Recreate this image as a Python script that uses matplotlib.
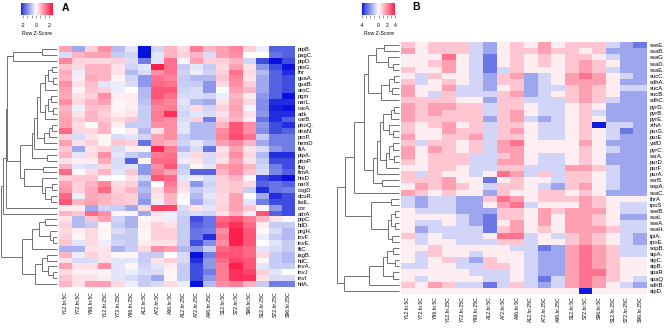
import numpy as np
import matplotlib
matplotlib.use("Agg")
import matplotlib.pyplot as plt
from matplotlib.colors import LinearSegmentedColormap

plt.rcParams['font.family'] = ['Liberation Sans', 'DejaVu Sans']

conditions = ["Y12.hr.5C", "Y72.hr.5C", "Y96.hr.5C", "Y12.hr.25C", "Y72.hr.25C", "Y96.hr.25C",
              "A12.hr.5C", "A72.hr.5C", "A96.hr.5C", "A12.hr.25C", "A72.hr.25C", "A96.hr.25C",
              "S12.hr.5C", "S72.hr.5C", "S96.hr.5C", "S12.hr.25C", "S72.hr.25C", "S96.hr.25C"]

genes_a = ["pipB.", "pagC.", "pipD.", "ptsG.", "fnr", "guaA.", "guaB.", "aroC.", "pgm", "narL.",
           "carA.", "adk", "carB.", "phoQ.", "dnaN.", "proP.", "hemD", "fliA.", "pipA.", "phoP.",
           "fbp", "fimA.", "hisD", "narX.", "csgD", "dcuR.", "fadL.", "cor", "adrA", "pipC.",
           "hilD.", "prgH.", "invF.", "invE.", "fliC.", "iagB.", "hilC.", "invA.", "invJ", "invI",
           "hilA."]

genes_b = ["sseE.", "ssaB.", "ssaG", "ssaD.", "ssaE.", "sucC.", "sdhA.", "sucA.", "sucB.", "sdhC.",
           "pyrD.", "pyrB.", "pyrE.", "xthA", "purG.", "purE", "yafD", "pyrC.", "ssrA.", "purD.",
           "purF.", "purA.", "ssrB.", "sopA.", "ssaC.", "thrA", "rpoS", "sseB.", "ssaI.", "sseA.",
           "ssaH.", "tpiA.", "rpoE.", "sopB.", "sipA.", "sipC.", "sipB.", "spaR", "spaQ", "sdhB.",
           "sipD."]

# row z-scores, panel A (rows top to bottom, columns as in conditions)
heat_a = [
    [1.0, -1.0, 0.5, 1.2, -0.8, -0.3, -3.0, -0.5, 0.8, 0.4, 1.4, 0.8, 1.0, 1.3, 0.5, -0.2, -1.8, -1.8],
    [-0.4, 0.8, 1.0, 1.0, -0.6, -0.5, -3.0, -0.3, 0.8, 0.5, 0.8, -0.4, 1.0, 1.2, 0.0, 0.0, -1.6, -1.8],
    [1.3, 0.5, 0.4, 0.4, 0.5, -0.4, -1.5, -0.3, 1.5, 0.1, 1.0, 0.5, 0.5, 0.8, -0.5, -2.0, -2.4, -2.0],
    [0.6, 0.4, 0.8, 0.8, 0.3, -0.5, -0.3, 2.5, 1.5, -0.6, -0.3, -0.6, 0.4, 1.0, 0.3, -1.2, -2.0, -2.4],
    [0.9, -0.2, 0.8, 0.8, 0.3, -0.8, -0.4, 1.2, 1.5, -0.5, -0.2, -0.5, 0.5, 1.5, 0.4, -0.8, -1.8, -2.2],
    [0.8, 0.2, 0.9, 0.8, 0.1, -0.5, -1.2, 1.5, 1.3, -0.6, -0.8, -0.8, 0.6, 1.3, 0.3, -1.0, -1.8, -2.0],
    [1.2, 0.3, 0.7, -0.3, -0.2, -0.4, -1.2, 1.6, 1.5, -0.6, -0.6, -1.2, 0.4, 1.2, 0.5, -1.0, -1.8, -2.0],
    [1.0, 0.1, 0.6, 0.5, -0.2, 0.0, -0.8, 1.8, 1.8, -0.5, -0.4, -1.2, 0.0, 1.0, 0.8, -1.0, -1.8, -2.0],
    [0.9, 0.3, 0.5, 1.2, 0.2, 0.2, -0.8, 1.8, 1.5, -0.4, -0.4, -0.5, -0.2, 0.8, 0.2, -1.2, -1.8, -2.8],
    [1.2, 0.4, 0.8, 1.0, 0.1, 0.2, -0.7, 1.5, 1.3, -0.3, -0.8, -1.0, 0.3, 0.9, 0.4, -1.3, -2.2, -2.2],
    [0.8, -0.2, 0.7, 0.6, 0.1, 0.2, -0.6, 1.3, 1.4, -0.4, 0.4, -0.5, 0.5, 1.0, -0.1, -1.3, -2.3, -2.4],
    [0.9, 0.3, 0.8, 0.5, 0.2, 0.3, -0.6, 1.4, 2.2, -0.5, -0.3, -0.4, 0.3, 0.9, 0.3, -1.2, -2.2, -2.2],
    [1.0, 0.5, 0.8, 0.6, 0.4, 0.6, -0.6, 1.4, 1.2, -0.4, 0.5, -1.5, 0.5, 0.8, 0.2, -1.6, -2.2, -1.8],
    [1.0, 0.4, 0.0, 0.8, 0.2, -0.6, -0.6, 1.2, 1.2, -0.3, -0.8, -0.8, 0.8, 1.8, 1.2, -1.2, -2.0, -2.2],
    [1.6, 0.4, 0.4, 0.8, 0.0, 0.2, -0.8, 0.3, 1.2, -0.3, -0.8, -0.8, 1.2, 1.8, 1.2, -1.3, -2.0, -1.8],
    [0.5, -0.4, 0.3, 0.1, -0.4, -0.3, -0.5, 1.0, 1.2, -0.6, -0.8, -0.8, 1.3, 1.9, 1.5, -0.6, -1.5, -1.5],
    [1.0, 0.3, 0.5, 0.1, 0.6, 0.5, -1.6, 1.0, 0.8, -0.5, -0.3, -0.6, 1.0, 1.3, 0.8, -1.0, -1.5, -1.5],
    [0.6, -1.0, 0.3, 0.5, -0.4, 0.2, 0.1, 2.3, 1.4, -0.8, -0.4, -1.6, 0.3, 1.0, 0.3, -0.4, -1.2, -1.5],
    [0.8, -0.3, 0.4, 1.2, -0.3, -0.6, -0.8, 1.4, 1.5, -0.3, 0.4, -0.4, 0.4, 1.2, 0.4, -0.8, -2.2, -2.2],
    [0.3, 0.2, 0.2, 0.9, -0.4, -1.8, 0.1, 1.6, 1.6, -0.2, 0.3, -0.4, 0.3, 1.0, 0.3, -0.6, -2.0, -2.0],
    [0.8, -0.3, -0.4, 0.4, -0.4, -0.3, -1.2, 1.2, 1.8, -0.6, 0.1, -0.3, 1.0, 1.2, 0.8, -0.5, -1.5, -2.0],
    [1.6, 0.1, 0.4, 0.8, -0.3, 0.6, -1.2, 1.4, 1.0, -0.5, -1.8, -1.8, 0.8, 1.2, 0.6, -0.4, -1.4, -1.8],
    [0.5, 0.6, 0.6, 0.0, 0.0, 0.3, -0.5, 1.8, 1.6, -0.3, -0.2, -0.4, 0.5, 0.8, 0.1, -2.0, -2.2, -2.6],
    [1.0, 0.5, 0.8, 1.3, 0.4, 0.5, -1.0, 0.0, 1.4, 0.4, -1.2, -0.5, 0.5, 0.6, 0.4, -1.8, -1.6, -1.8],
    [1.1, 0.5, 0.9, 1.6, 0.5, 0.8, -0.8, 0.4, 1.2, 0.3, -0.6, -0.4, 0.5, 0.6, -0.6, -2.2, -1.6, -1.5],
    [1.6, -0.2, 0.9, 0.8, 0.6, 0.5, -1.0, 0.3, 0.8, 0.1, -0.8, -0.3, 0.4, 1.0, 0.0, -1.0, -2.2, -2.0],
    [1.8, 0.8, 1.0, 0.8, 0.6, 0.5, -1.2, -0.2, 0.8, 0.0, -1.0, -0.4, 0.4, 1.0, -0.3, -1.5, -2.0, -2.0],
    [0.2, 0.2, -1.0, -0.5, -0.6, -1.0, 0.4, 2.0, 2.0, -0.4, 0.3, -0.3, 0.5, 1.0, 0.6, 0.1, -1.2, -2.0],
    [0.8, 0.6, 1.6, 1.2, 0.1, 0.1, -1.0, 0.3, -0.2, -0.5, -0.4, -0.5, 0.3, 0.8, -0.2, 1.8, -1.8, -2.0],
    [0.3, -0.8, 0.6, 1.0, -0.5, -0.9, 0.1, 0.2, -0.2, -0.6, -2.0, -1.6, 1.6, 1.8, 1.4, 0.8, 0.3, 0.1],
    [0.5, -0.8, -0.6, 0.1, -0.6, -0.9, 0.2, 0.5, 0.3, -0.6, -1.8, -1.6, 1.8, 2.2, 1.6, 0.2, -0.6, -0.6],
    [0.4, 0.2, 0.4, 0.1, -0.4, -0.6, 0.1, 0.5, 0.5, -0.6, -1.6, -1.5, 1.2, 2.4, 1.8, 0.1, -0.4, -0.8],
    [0.5, 0.1, 0.4, 0.1, -0.6, -0.6, 0.1, 0.5, 0.5, -0.6, -1.6, -2.2, 1.4, 2.4, 1.8, -0.2, -0.6, -0.8],
    [0.6, -0.3, 0.4, -0.2, -0.5, -0.6, 0.2, 0.3, 0.3, -0.6, -2.0, -1.3, 1.2, 2.4, 1.8, 0.0, -0.3, -0.6],
    [-0.9, -0.9, 0.3, 0.3, -0.9, -0.6, 0.4, 1.2, 1.0, -0.8, -1.2, -0.6, 1.6, 1.8, 1.6, -0.3, -0.4, -0.6],
    [0.8, -0.2, 0.5, 0.3, 0.1, 0.1, -0.6, -0.6, 0.0, -0.4, -2.4, -1.5, 1.8, 1.8, 1.6, 0.4, -0.6, -0.8],
    [0.3, -0.4, -0.4, 0.3, -0.3, -0.3, -0.6, 0.3, 0.5, -0.4, -2.2, -1.2, 1.6, 2.0, 1.8, 0.1, -0.6, -0.8],
    [1.0, 0.3, 0.3, 1.2, -0.3, 0.1, -0.5, -0.3, 0.2, -0.6, -2.0, -1.2, 1.4, 2.4, 1.8, -0.3, -0.6, -0.6],
    [0.4, 0.2, 0.2, 0.1, -0.3, -0.2, -0.4, -0.4, 0.1, -0.6, -2.0, -1.5, 1.4, 2.2, 2.0, 0.5, -0.3, 0.0],
    [0.6, 0.3, 0.3, 0.2, -0.3, -0.4, -0.6, -1.0, 0.1, -0.6, -2.0, -1.2, 1.4, 2.2, 2.2, 0.3, -0.4, -0.4],
    [0.8, 0.3, 1.0, 1.0, 0.4, -0.2, -0.6, -0.4, 0.4, -0.2, -2.6, -0.8, 1.2, 1.4, 0.8, -0.6, -1.5, -1.5],
]

# row z-scores, panel B
heat_b = [
    [1.0, 0.3, 1.0, 1.0, 1.0, -0.8, -1.7, 0.3, 1.0, 0.3, 1.7, 0.3, 1.0, 1.0, 1.0, -0.8, -1.7, -2.6],
    [1.7, 0.3, 1.0, 1.0, 1.0, -0.8, -1.7, 0.3, 1.0, 1.0, 1.7, 1.0, 1.0, 0.3, 1.0, -1.7, -1.7, -1.7],
    [0.3, 0.3, 0.3, 2.5, 0.3, -0.8, -2.6, 0.3, 1.0, 0.3, 1.0, 0.3, 1.0, 1.0, 0.3, -0.8, -1.7, -1.7],
    [0.3, 0.3, 1.0, 1.7, 0.3, -0.8, -2.6, 0.3, 1.0, 0.3, 1.0, 0.3, 1.0, 1.7, 1.0, 0.3, -1.7, -1.7],
    [1.0, 0.3, 0.3, 1.7, 0.3, -0.8, -2.6, -0.8, 1.0, 0.3, 0.3, 0.3, 1.0, 1.7, 1.0, -0.8, -1.7, -1.7],
    [0.3, -0.8, 1.0, 0.3, 0.3, -0.8, -1.7, 1.0, 1.7, -1.7, -0.8, 0.3, 1.7, 2.5, 1.7, 0.3, -0.8, -1.7],
    [1.0, -0.8, 0.3, 1.0, 0.3, -0.8, -1.7, 1.0, 1.0, -1.7, -0.8, 0.3, 1.7, 1.7, 1.7, 0.3, -1.7, -1.7],
    [1.7, 0.3, 0.3, 1.7, -0.8, -0.8, -1.7, 0.3, 1.0, -1.7, -0.8, -0.8, 1.0, 1.7, 1.0, 0.3, -0.8, -0.8],
    [1.7, 0.3, -0.8, 1.0, -0.8, -0.8, -0.8, 1.0, 1.7, -1.7, -0.8, 0.3, 1.0, 1.7, 1.0, 0.3, -1.7, -1.7],
    [1.0, 1.0, 1.0, 1.0, 0.3, 0.3, -1.7, 1.0, 1.0, -0.8, -0.8, -0.8, 1.0, 1.7, 1.0, -0.8, -1.7, -1.7],
    [1.7, 1.0, 1.7, 1.7, 1.0, 1.0, -0.8, 1.0, 1.0, 0.3, -0.8, -0.8, 0.3, 1.0, 0.3, -1.7, -1.7, -1.7],
    [1.7, 1.0, 1.7, 1.0, 1.0, 1.0, -0.8, 1.0, 1.7, 0.3, -0.8, -0.8, 0.3, 1.0, -0.8, -1.7, -1.7, -1.7],
    [1.7, 1.0, 1.0, 1.0, 1.0, 1.0, -1.7, 1.0, 1.7, -0.8, -1.7, -0.8, 0.3, 1.0, 0.3, -1.7, -1.7, -1.7],
    [1.0, 0.3, 1.0, 1.7, 0.3, 1.0, -0.8, 1.0, 1.0, 0.3, -0.8, -0.8, 0.3, 1.0, -3.9, -0.8, -0.8, -1.7],
    [1.0, 0.3, 0.3, 1.7, 1.0, 1.0, -0.8, 1.0, 1.7, 0.3, -0.8, -0.8, 0.3, 1.0, 0.3, -0.8, -2.6, -1.7],
    [1.7, 0.3, 0.3, 1.0, 1.0, 1.7, -0.8, 1.0, 1.0, 0.3, -0.8, -0.8, 0.3, 1.0, 0.3, -0.8, -1.7, -1.7],
    [1.0, -0.8, 1.0, 1.0, 0.3, 1.0, -0.8, 1.7, 2.5, 0.3, 0.3, 0.3, 0.3, 1.7, 0.3, -1.7, -1.7, -1.7],
    [1.7, 0.3, 1.7, 1.0, 0.3, 1.0, -0.8, 1.7, 1.7, 0.3, 0.3, 0.3, 0.3, 1.0, 0.3, -0.8, -1.7, -1.7],
    [1.7, 0.3, 1.0, 1.0, 1.0, -0.8, -0.8, 1.0, 1.7, 0.3, -0.8, -0.8, 0.3, 1.0, 0.3, -1.7, -1.7, -1.7],
    [1.0, 0.3, 1.0, 1.0, 1.0, -0.8, -0.8, 1.7, 1.7, 0.3, -0.8, -0.8, 0.3, 1.0, 0.3, -1.7, -1.7, -1.7],
    [0.3, 0.3, 1.0, 1.0, 0.3, -0.8, -0.8, 1.0, 1.0, -0.8, -0.8, -0.8, 1.7, 1.7, 1.0, -0.8, -1.7, -1.7],
    [1.0, -0.8, 1.0, 0.3, 0.3, -0.8, 0.3, 2.5, 1.7, -0.8, 1.0, -0.8, 1.0, 1.0, 0.3, -0.8, -1.7, -1.7],
    [1.0, 1.0, 1.0, 1.7, 0.3, 0.3, -2.6, 0.3, 1.0, 0.3, 0.3, -0.8, 1.0, 1.0, 0.3, -0.8, -1.7, -1.7],
    [0.3, 1.7, 1.0, 1.7, 1.0, 0.3, -0.8, 1.0, 1.0, 0.3, -0.8, -1.7, 1.0, 1.7, 0.3, -0.8, -1.7, -1.7],
    [1.7, 1.0, 0.3, 1.0, 0.3, 0.3, -1.7, 1.0, 0.3, 0.3, 1.0, 1.0, 0.3, 1.0, 0.3, -1.7, -1.7, -1.7],
    [-0.8, -1.7, -0.8, -0.8, -1.7, -1.7, 1.0, 2.5, 1.7, 0.3, 1.0, 1.0, 1.0, 1.7, 1.0, 0.3, 0.3, 0.3],
    [-0.8, -1.7, -0.8, -0.8, -1.7, -1.7, 0.3, 1.7, 2.5, -0.8, 0.3, 0.3, 0.3, 1.7, 1.0, 0.3, -0.8, -0.8],
    [0.3, -0.8, -0.8, -0.8, -1.7, -1.7, -1.7, 1.0, 1.0, 0.3, 1.7, 1.0, 1.7, 1.7, 1.7, 0.3, -0.8, -0.8],
    [0.3, 0.3, 0.3, 0.3, -0.8, -1.7, -2.6, 1.0, 1.0, 0.3, 1.7, 0.3, 1.7, 1.7, 1.0, 0.3, -1.7, -1.7],
    [0.3, -0.8, -0.8, 0.3, -0.8, -1.7, -2.6, 0.3, 1.7, 0.3, 1.7, 0.3, 1.7, 1.7, 1.0, 0.3, -0.8, -0.8],
    [0.3, -1.7, -0.8, -0.8, -0.8, -0.8, -2.6, 1.0, 1.7, 0.3, 1.0, 0.3, 1.7, 1.7, 1.7, 1.0, -0.8, -0.8],
    [1.0, -0.8, 0.3, -0.8, -0.8, -0.8, 0.3, 2.5, 2.5, -0.8, 0.3, -0.8, 1.0, 1.7, 1.0, 0.3, -0.8, -1.7],
    [0.3, -0.8, 0.3, 0.3, -0.8, -0.8, -0.8, 1.0, 1.0, -0.8, 0.3, 0.3, 1.0, 1.7, 1.0, 0.3, -0.8, -1.7],
    [0.3, 0.3, 1.0, 0.3, 0.3, 0.3, 0.3, 0.3, -0.8, -0.8, -2.6, -1.7, 1.7, 2.5, 1.7, 1.0, -0.8, -0.8],
    [0.3, -0.8, 1.0, 0.3, 0.3, -0.8, 0.3, 0.3, 0.3, -0.8, -1.7, -1.7, 1.7, 2.5, 1.7, 1.0, -0.8, -0.8],
    [0.3, -0.8, 0.3, 1.0, -0.8, -1.7, 1.0, 0.3, 0.3, -0.8, -1.7, -1.7, 1.7, 2.5, 1.7, 1.0, 0.3, 0.3],
    [-0.8, -0.8, 0.3, 0.3, -0.8, -0.8, 1.0, 1.0, 0.3, -0.8, -1.7, -1.7, 1.7, 2.5, 1.7, 1.0, 0.3, 0.3],
    [0.3, 0.3, 0.3, 0.3, 0.3, -0.8, -0.8, -0.8, 0.3, -0.8, -1.7, -1.7, 1.7, 2.5, 2.5, 1.0, 0.3, 0.3],
    [0.3, -0.8, 0.3, 0.3, 0.3, 0.3, -0.8, -0.8, 0.3, -0.8, -2.6, -0.8, 1.7, 2.5, 1.7, 1.0, 0.3, -0.8],
    [1.0, 0.3, 1.7, 1.0, -0.8, -0.8, -2.6, -0.8, 1.0, -0.8, -1.7, -0.8, 1.7, 2.5, 1.7, 0.3, -0.8, -1.7],
    [0.3, 0.3, 0.3, 0.3, 0.3, 0.3, 0.3, 0.3, 0.3, 0.3, 0.3, 0.3, 0.3, -3.9, 0.3, 0.3, 0.3, 0.3],
]

# row clustering as merge lists: (left, right, height); ints are rows, "mK" is merge K
merges_a = [
    (0, 1, 15), ("m0", 2, 44), (3, 4, 5), (5, 6, 4), ("m2", "m3", 9),
    ("m4", 7, 12), (8, 9, 6), (10, 11, 4), ("m6", "m7", 9), ("m8", 12, 12),
    ("m5", "m9", 17), (13, 14, 5), ("m11", 15, 8), ("m12", 16, 13), ("m10", "m13", 20),
    ("m14", 17, 23), (18, 19, 10), ("m15", "m16", 25), (20, 21, 14), (23, 24, 5),
    (25, 26, 6), ("m19", "m20", 12), (22, "m21", 15), ("m18", "m22", 33), ("m17", "m23", 37),
    ("m1", "m24", 50), ("m25", 27, 51), ("m26", 28, 54), (29, 30, 12), (32, 33, 4),
    (31, "m29", 7), ("m28", "m30", 18), ("m31", 34, 25), (35, 36, 10), (38, 39, 4),
    (37, "m34", 9), ("m33", "m35", 15), ("m36", 40, 22), ("m32", "m37", 35), ("m27", "m38", 56),
]

merges_b = [
    (0, 1, 15), (3, 4, 6), (2, "m1", 11), ("m0", "m2", 23), (5, 6, 5),
    (7, 8, 7), ("m4", "m5", 10), ("m6", 9, 18), ("m3", "m7", 32), (10, 11, 5),
    ("m9", 12, 8), (14, 15, 6), (13, "m11", 10), ("m10", "m12", 16), (16, 17, 6),
    (18, 19, 5), ("m14", "m15", 10), ("m16", 20, 13), ("m13", "m17", 19), ("m18", 21, 22),
    (22, 23, 17), ("m19", "m20", 26), ("m8", "m21", 36), ("m22", 24, 46), (25, 26, 8),
    (27, 28, 4), (29, 30, 4), ("m25", "m26", 8), (31, 32, 7), ("m27", "m28", 11),
    ("m24", "m29", 28), ("m23", "m30", 55), (33, 34, 6), (35, 36, 4), ("m32", "m33", 12),
    (37, 38, 6), ("m34", "m35", 16), ("m36", 39, 30), ("m37", 40, 56), ("m31", "m38", 63),
]

W, H = 669, 329
fig = plt.figure(figsize=(W / 100, H / 100), dpi=100)
zcmap = LinearSegmentedColormap.from_list(
    "zscore", [(0.0, "#0a10e0"), (0.1, "#4b5ae0"), (0.5, "#ffffff"), (1.0, "#ff1f4b")])
line_col = "#707070"


def box(x0, y0, x1, y1):
    # axes placed by pixel corners (origin top-left)
    return fig.add_axes([x0 / W, 1 - y1 / H, (x1 - x0) / W, (y1 - y0) / H])


def dendro(rect, merges, n):
    ax = box(*rect)
    pos = {}
    kw = dict(color=line_col, lw=0.7, clip_on=False, solid_capstyle="butt")

    def where(ref):
        if isinstance(ref, str):
            return pos[ref]
        return ref, 0.0

    for k, (a, b, h) in enumerate(merges):
        ya, ha = where(a)
        yb, hb = where(b)
        ax.plot([ha, h], [ya, ya], **kw)
        ax.plot([hb, h], [yb, yb], **kw)
        ax.plot([h, h], [ya, yb], **kw)
        pos["m%d" % k] = ((ya + yb) / 2, h)
    ax.set_xlim(merges[-1][2], 0)
    ax.set_ylim(n - 0.5, -0.5)
    ax.axis("off")


def heatmap(rect, data, rows, lim, row_pad, col_pad):
    ax = box(*rect)
    ax.imshow(np.array(data), cmap=zcmap, vmin=-lim, vmax=lim, aspect="auto",
              interpolation="nearest")
    ax.set_xticks(range(len(conditions)))
    ax.set_xticklabels(conditions, rotation=90, fontsize=3.7, va="top", ha="center")
    ax.set_yticks(range(len(rows)))
    ax.set_yticklabels(rows, fontsize=4.2)
    ax.yaxis.tick_right()
    ax.tick_params(axis="y", length=0, pad=row_pad)
    ax.tick_params(axis="x", length=0, pad=col_pad)
    for s in ax.spines.values():
        s.set_visible(False)


def color_key(rect, lo, hi, lim, major, minor):
    ax = box(*rect)
    grad = np.linspace(lo, hi, 256)[None, :]
    ax.imshow(grad, cmap=zcmap, vmin=-lim, vmax=lim, aspect="auto", extent=(lo, hi, 0, 1))
    ax.set_xlim(lo, hi)
    ax.set_yticks([])
    ax.set_xticks(major)
    ax.set_xticklabels([str(v) for v in major], fontsize=3.7)
    ax.set_xticks(minor, minor=True)
    ax.tick_params(axis="x", which="both", length=2, width=0.4, color="#555555", pad=3.5)
    ax.set_xlabel("Row Z-Score", fontsize=3.7, labelpad=2.5)
    for s in ax.spines.values():
        s.set_visible(False)


# panel A
color_key((21, 3, 53, 15), -2.3, 2.6, 2.4, [-2, 0, 2], np.linspace(-2, 2, 7))
fig.text(62 / W, 1 - 11 / H, "A", fontsize=7.5, fontweight="bold")
dendro((1, 46, 57, 287), merges_a, len(genes_a))
heatmap((59, 46, 295, 287), heat_a, genes_a, 2.4, 2.0, 3.0)

# panel B
color_key((362, 3, 395, 15), -4, 4, 4, [-4, 0, 2, 4], np.arange(-4, 5))
fig.text(412 / W, 1 - 10 / H, "B", fontsize=7.5, fontweight="bold")
dendro((337, 42, 399, 294), merges_b, len(genes_b))
heatmap((401, 42, 647, 294), heat_b, genes_b, 4, 2.0, 1.5)

fig.savefig("out.png", dpi=100)
